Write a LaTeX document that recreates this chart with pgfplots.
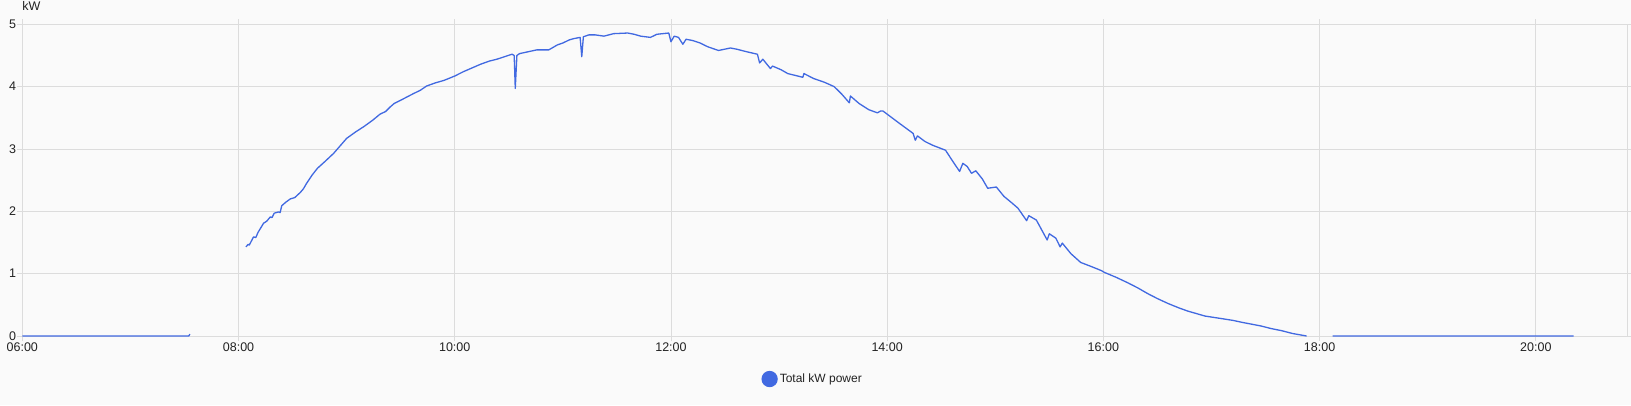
\documentclass[border=0pt]{standalone}
\usepackage{pgfplots}
\pgfplotsset{compat=1.18}
\usepackage{fontspec}
\setmainfont{Liberation Sans}
\usetikzlibrary{backgrounds}
\definecolor{lineblue}{RGB}{65,105,225}
\definecolor{gridgray}{HTML}{DCDCDC}
\definecolor{bggray}{HTML}{FAFAFA}
\definecolor{txt}{HTML}{222222}
\pgfplotstableread{
t v
6.00 0
7.54 0
7.55 0.03
nan nan
8.068 1.43
8.09 1.47
8.10 1.46
8.139 1.59
8.16 1.58
8.18 1.66
8.232 1.81
8.26 1.84
8.294 1.91
8.31 1.90
8.33 1.97
8.37 1.99
8.385 1.98
8.40 2.09
8.44 2.15
8.48 2.20
8.52 2.22
8.57 2.30
8.60 2.36
8.63 2.45
8.68 2.58
8.73 2.69
8.80 2.80
8.88 2.93
8.94 3.05
9.00 3.17
9.08 3.27
9.16 3.36
9.24 3.46
9.31 3.56
9.36 3.60
9.40 3.67
9.44 3.73
9.52 3.80
9.62 3.89
9.68 3.94
9.74 4.01
9.82 4.06
9.90 4.10
10.00 4.17
10.08 4.24
10.16 4.30
10.24 4.36
10.32 4.41
10.39 4.44
10.46 4.48
10.53 4.52
10.55 4.50
10.56 3.97
10.575 4.50
10.60 4.53
10.68 4.56
10.76 4.59
10.87 4.59
10.95 4.67
11.00 4.70
11.06 4.75
11.10 4.77
11.16 4.79
11.175 4.48
11.19 4.80
11.24 4.83
11.30 4.83
11.38 4.81
11.47 4.85
11.60 4.86
11.66 4.84
11.72 4.81
11.81 4.79
11.87 4.84
11.98 4.86
12.00 4.72
12.03 4.81
12.07 4.79
12.11 4.68
12.14 4.76
12.20 4.74
12.27 4.70
12.34 4.64
12.44 4.58
12.55 4.62
12.61 4.60
12.70 4.56
12.80 4.52
12.82 4.38
12.85 4.44
12.92 4.29
12.94 4.33
13.02 4.27
13.08 4.21
13.15 4.18
13.22 4.15
13.23 4.21
13.32 4.13
13.42 4.07
13.51 4.00
13.58 3.88
13.65 3.74
13.66 3.85
13.74 3.73
13.83 3.63
13.91 3.58
13.94 3.61
13.96 3.61
14.03 3.52
14.13 3.39
14.24 3.25
14.26 3.14
14.28 3.21
14.35 3.12
14.42 3.06
14.54 2.98
14.60 2.82
14.67 2.64
14.70 2.77
14.74 2.72
14.78 2.61
14.82 2.65
14.88 2.52
14.93 2.37
15.01 2.39
15.08 2.24
15.15 2.14
15.21 2.05
15.29 1.85
15.31 1.93
15.38 1.86
15.43 1.70
15.48 1.54
15.50 1.64
15.56 1.57
15.60 1.43
15.62 1.49
15.70 1.32
15.79 1.18
15.88 1.12
15.98 1.05
16.01 1.02
16.12 0.94
16.23 0.85
16.32 0.77
16.41 0.68
16.50 0.60
16.60 0.52
16.70 0.45
16.78 0.40
16.86 0.36
16.94 0.32
17.09 0.28
17.20 0.25
17.28 0.22
17.37 0.19
17.46 0.16
17.55 0.12
17.65 0.085
17.75 0.04
17.88 0.00
nan nan
18.12 0
20.35 0
}\power
\begin{document}
\begin{tikzpicture}
\begin{axis}[
  scale only axis,
  width=1605.4pt, height=311.7pt,
  xmin=6, xmax=20.85, ymin=0, ymax=5,
  xtick={6,8,10,12,14,16,18,20},
  xticklabels={06:00,08:00,10:00,12:00,14:00,16:00,18:00,20:00},
  ytick={0,1,2,3,4,5},
  grid=major,
  grid style={gridgray, line width=0.8pt},
  axis line style={gridgray, line width=0.8pt},
  tick style={gridgray, line width=0.8pt},
  tick align=outside,
  major tick length=5pt,
  axis background/.style={fill=bggray},
  tick label style={font=\fontsize{12.5}{14}\selectfont, text=txt},
  /pgf/number format/assume math mode=true,
  xticklabel style={inner sep=2pt},
  yticklabel style={inner sep=1pt},
  title={kW},
  title style={at={(0,1)}, anchor=base west, inner sep=0pt, yshift=8pt, font=\fontsize{12.5}{14}\selectfont, text=txt},
  unbounded coords=jump,
  clip=false,
  legend style={at={(0.4923,-0.138)}, anchor=center, draw=none, fill=none, font=\fontsize{12}{14}\selectfont, text=txt},
  legend image code/.code={\fill[lineblue] (0pt,0pt) circle (7.5pt);},
]
\addplot[lineblue, line width=1.3pt, line join=round] table[x=t, y=v] {\power};
\addlegendentry{Total kW power}
\coordinate (ll) at (rel axis cs:0,0);
\coordinate (ur) at (rel axis cs:1,1);
\end{axis}
\pgfresetboundingbox
\path[use as bounding box] ([xshift=-22.3pt,yshift=-69pt]ll) rectangle ([xshift=3.3pt,yshift=24.3pt]ur);
\begin{scope}[on background layer]
\fill[bggray] ([xshift=-22.3pt,yshift=-69pt]ll) rectangle ([xshift=3.3pt,yshift=24.3pt]ur);
\end{scope}
\end{tikzpicture}
\end{document}
